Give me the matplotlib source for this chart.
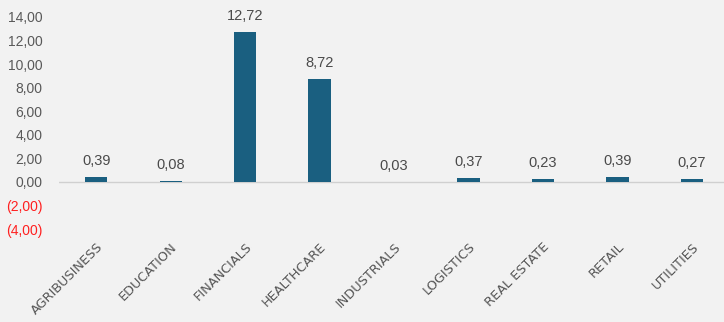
import matplotlib
matplotlib.use("Agg")
import matplotlib.pyplot as plt
from matplotlib.ticker import FuncFormatter

sectors = ["AGRIBUSINESS", "EDUCATION", "FINANCIALS", "HEALTHCARE", "INDUSTRIALS",
           "LOGISTICS", "REAL ESTATE", "RETAIL", "UTILITIES"]
values = [0.39, 0.08, 12.72, 8.72, 0.03, 0.37, 0.23, 0.39, 0.27]
yticks = [-4, -2, 0, 2, 4, 6, 8, 10, 12, 14]

bg = "#f2f2f2"
bar_color = "#1a5f80"
plt.rcParams["font.family"] = ["Liberation Sans", "DejaVu Sans"]

def fmt(v):
    s = "{:,.2f}".format(abs(v)).replace(".", ",")
    return "(" + s + ")" if v < 0 else s

fig = plt.figure(figsize=(7.24, 3.22), dpi=100, facecolor=bg)
ax = fig.add_axes([59 / 724, 1 - 229 / 322, 1 - 59 / 724, 212 / 322], facecolor=bg)

x = list(range(len(sectors)))
ax.bar(x, values, width=0.3, color=bar_color, zorder=3)
ax.axhline(0, color="#d0d0d0", linewidth=1, zorder=2)

for xi, v in zip(x, values):
    ax.text(xi, v + 0.75, fmt(v), ha="center", va="bottom", fontsize=10.5, color="#4a4a4a")

ax.set_xlim(-0.5, 8.43)
ax.set_ylim(-4, 14)
ax.set_yticks(yticks)
ax.yaxis.set_major_formatter(FuncFormatter(lambda v, p: fmt(v)))
ax.tick_params(axis="y", length=0, pad=12, labelsize=10, labelcolor="#595959")
for lbl, t in zip(ax.get_yticklabels(), yticks):
    if t < 0:
        lbl.set_color("#ff2020")

ax.set_xticks(x)
ax.set_xticklabels(sectors, rotation=45, ha="right", rotation_mode="anchor",
                   fontsize=9.3, color="#555555", family="DejaVu Sans")
ax.tick_params(axis="x", length=0, pad=8)

for s in ax.spines.values():
    s.set_visible(False)

fig.savefig("out.png", dpi=100, facecolor=bg)
